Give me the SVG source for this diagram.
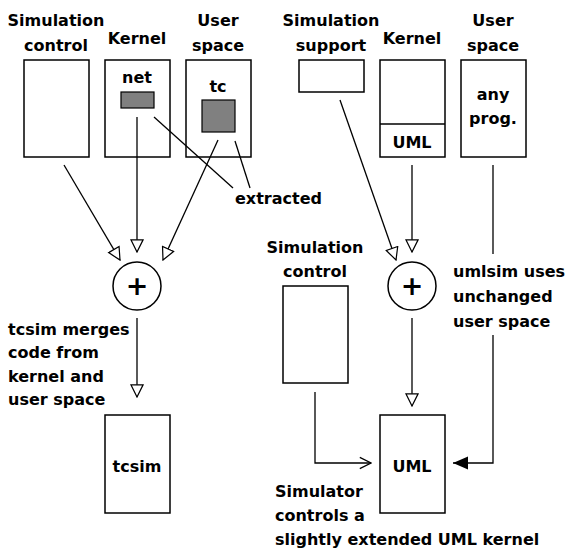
<svg xmlns="http://www.w3.org/2000/svg" width="568" height="550" viewBox="0 0 568 550">
<style>
text{font-family:"DejaVu Sans","Liberation Sans",sans-serif;font-weight:bold;font-size:16px;fill:#000}
.c{text-anchor:middle}
.box{fill:#fff;stroke:#000;stroke-width:1.5}
.gray{fill:#808080;stroke:#000;stroke-width:1.2}
.ln{fill:none;stroke:#000;stroke-width:1.3}
.plus{font-size:27px}
</style>
<defs>
<marker id="tri" markerUnits="userSpaceOnUse" markerWidth="14" markerHeight="14" viewBox="-1 -1 15 15" refX="13" refY="6.5" orient="auto">
<path d="M0,0 L13,6.5 L0,13 z" fill="#fff" stroke="#000" stroke-width="1.3"/>
</marker>
<marker id="vee" markerUnits="userSpaceOnUse" markerWidth="14" markerHeight="14" viewBox="-1 -1 15 15" refX="13" refY="6.5" orient="auto">
<path d="M1,0.5 L13,6.5 L1,12.5" fill="none" stroke="#000" stroke-width="1.3"/>
</marker>
<marker id="fill" markerUnits="userSpaceOnUse" markerWidth="16" markerHeight="16" viewBox="0 0 16 16" refX="15" refY="6.5" orient="auto">
<path d="M0,0 L15,6.5 L0,13 z" fill="#000"/>
</marker>
</defs>

<g id="sim-control-left">
<text class="c" x="56" y="26">Simulation</text>
<text class="c" x="56" y="51">control</text>
<rect class="box" x="24" y="60" width="65" height="97"/>
</g>

<g id="kernel-left">
<text class="c" x="137" y="44">Kernel</text>
<rect class="box" x="105" y="60" width="65" height="97"/>
<text class="c" x="137" y="83">net</text>
<rect class="gray" x="121" y="92" width="33" height="16"/>
</g>

<g id="user-space-left">
<text class="c" x="218" y="26">User</text>
<text class="c" x="218" y="51">space</text>
<rect class="box" x="186" y="60" width="65" height="97"/>
<text class="c" x="218" y="92">tc</text>
<rect class="gray" x="202" y="100" width="33" height="32"/>
</g>

<g id="extracted-label">
<text x="235" y="204">extracted</text>
</g>

<g id="merge-left">
<circle class="box" cx="137" cy="286" r="24"/>
<text class="c plus" x="137" y="295">+</text>
</g>

<g id="tcsim-label">
<text x="8" y="335">tcsim merges</text>
<text x="8" y="358">code from</text>
<text x="8" y="382">kernel and</text>
<text x="8" y="405">user space</text>
</g>

<g id="tcsim">
<rect class="box" x="105" y="415" width="65" height="98"/>
<text class="c" x="137" y="472">tcsim</text>
</g>

<g id="sim-support">
<text class="c" x="331" y="26">Simulation</text>
<text class="c" x="331" y="51">support</text>
<rect class="box" x="299" y="60" width="65" height="32"/>
</g>

<g id="kernel-right">
<text class="c" x="412" y="44">Kernel</text>
<rect class="box" x="380" y="60" width="65" height="97"/>
<line class="ln" x1="380" y1="124" x2="445" y2="124" style="stroke-width:1.5"/>
<text class="c" x="412" y="148">UML</text>
</g>

<g id="user-space-right">
<text class="c" x="493" y="26">User</text>
<text class="c" x="493" y="51">space</text>
<rect class="box" x="461" y="60" width="65" height="97"/>
<text class="c" x="493" y="100">any</text>
<text class="c" x="493" y="124">prog.</text>
</g>

<g id="merge-right">
<circle class="box" cx="412" cy="286" r="24"/>
<text class="c plus" x="412" y="295">+</text>
</g>

<g id="umlsim-label">
<text x="453" y="277">umlsim uses</text>
<text x="453" y="302">unchanged</text>
<text x="453" y="327">user space</text>
</g>

<g id="sim-control-right">
<text class="c" x="315" y="253">Simulation</text>
<text class="c" x="315" y="277">control</text>
<rect class="box" x="283" y="286" width="65" height="97"/>
</g>

<g id="uml">
<rect class="box" x="380" y="415" width="65" height="98"/>
<text class="c" x="412" y="472">UML</text>
</g>

<g id="simulator-label">
<text x="275" y="497">Simulator</text>
<text x="275" y="521">controls a</text>
<text x="275" y="545">slightly extended UML kernel</text>
</g>

<g id="connectors">
<line class="ln" x1="64" y1="165" x2="120" y2="260" marker-end="url(#tri)"/>
<line class="ln" x1="137" y1="117" x2="137" y2="252" marker-end="url(#tri)"/>
<line class="ln" x1="218" y1="140" x2="163" y2="260" marker-end="url(#tri)"/>
<line class="ln" x1="154" y1="117" x2="233" y2="188"/>
<line class="ln" x1="235" y1="141" x2="250" y2="188"/>
<line class="ln" x1="137" y1="318" x2="137" y2="397" marker-end="url(#tri)"/>
<line class="ln" x1="340" y1="100" x2="396" y2="260" marker-end="url(#tri)"/>
<line class="ln" x1="412" y1="165" x2="412" y2="252" marker-end="url(#tri)"/>
<line class="ln" x1="412" y1="318" x2="412" y2="406" marker-end="url(#tri)"/>
<line class="ln" x1="493" y1="165" x2="493" y2="254"/>
<polyline class="ln" points="493,335 493,463 453,463" marker-end="url(#fill)"/>
<polyline class="ln" points="315,392 315,463 371,463" marker-end="url(#vee)"/>
</g>
</svg>
